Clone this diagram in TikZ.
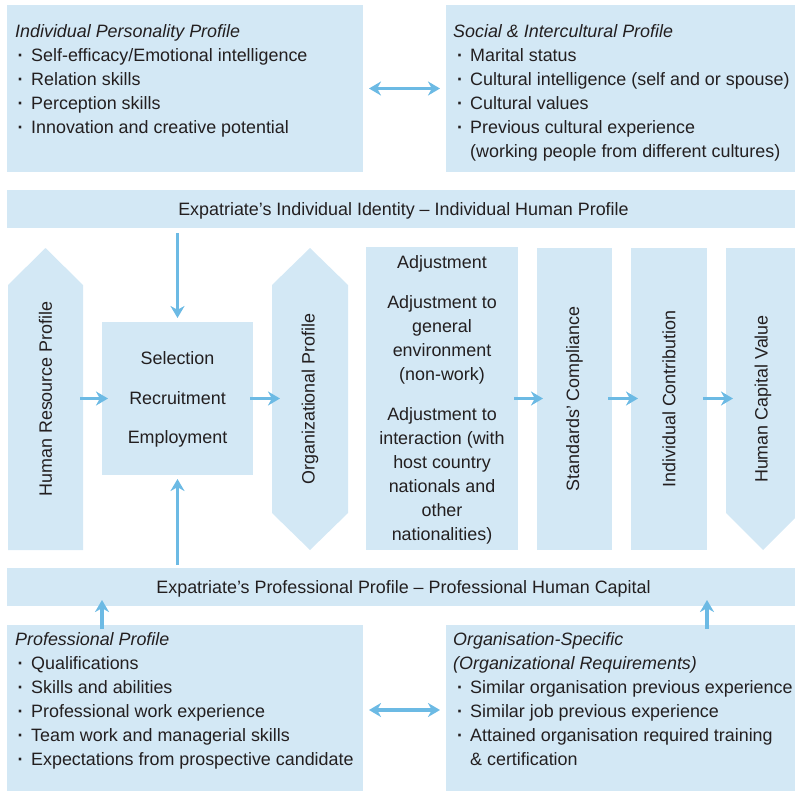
\documentclass[tikz,border=0pt]{standalone}
\usepackage{fontspec}
\setmainfont{Liberation Sans}
\usetikzlibrary{arrows.meta,calc}
\definecolor{boxc}{RGB}{211,232,245}
\definecolor{arrc}{RGB}{108,186,228}
\definecolor{txtc}{RGB}{35,31,32}
\tikzset{
 box/.style={fill=boxc,draw=none,inner sep=0pt,outer sep=0pt,anchor=north west},
 area/.style={draw=none,fill=none,inner sep=0pt,outer sep=0pt,anchor=north west},
 arr/.style={draw=arrc,line width=3.6pt,-{Stealth[length=12pt,width=14pt,inset=3.8pt]}},
 darr/.style={draw=arrc,line width=3.2pt,{Stealth[length=12pt,width=14pt,inset=3.8pt]}-{Stealth[length=12pt,width=14pt,inset=3.8pt]}},
 ln/.style={anchor=base west,inner sep=0pt},
 bul/.style={anchor=base,inner sep=0pt},
 vtxt/.style={rotate=90,inner sep=0pt},
}
\begin{document}
\begin{tikzpicture}[x=1pt,y=-1pt,font=\fontsize{17.9}{24}\selectfont,text=txtc]
\useasboundingbox (0,0) rectangle (795,790);
% boxes
\node[box,minimum width=356,minimum height=167] (ipp) at (7,5) {};
\node[box,minimum width=354,minimum height=167] (sip) at (446,5) {};
\node[box,minimum width=793,minimum height=38] (idb) at (7,190) {};
\node[box,minimum width=793,minimum height=38] (pfb) at (7,568) {};
\node[box,minimum width=356,minimum height=170] (pp) at (7,625) {};
\node[box,minimum width=354,minimum height=170] (os) at (446,625) {};
\node[box,minimum width=151,minimum height=153] (sel) at (102,322) {};
\node[box,minimum width=152,minimum height=303] (adj) at (366,247) {};
\node[box,minimum width=75,minimum height=302] (std) at (537,248) {};
\node[box,minimum width=76,minimum height=302] (ic) at (631,248) {};
\node[area,minimum width=75,minimum height=302] (hr) at (8,248) {};
\node[area,minimum width=76,minimum height=302] (org) at (272,248) {};
\node[area,minimum width=74,minimum height=302] (hcv) at (726,248) {};
% pointed shapes
\fill[boxc] (hr.south west) -- (hr.south east) -- ([yshift=-37pt]hr.north east) -- (hr.north) -- ([yshift=-37pt]hr.north west) -- cycle;
\fill[boxc] ([yshift=37pt]org.south west) -- (org.south) -- ([yshift=37pt]org.south east) -- ([yshift=-37pt]org.north east) -- (org.north) -- ([yshift=-37pt]org.north west) -- cycle;
\fill[boxc] (hcv.north west) -- (hcv.north east) -- ([yshift=37pt]hcv.south east) -- (hcv.south) -- ([yshift=37pt]hcv.south west) -- cycle;
% bar texts
\node (idt) at ($(idb.center)+(0,2)$) {Expatriate’s Individual Identity – Individual Human Profile};
\node (pft) at ($(pfb.center)+(0,2)$) {Expatriate’s Professional Profile – Professional Human Capital};
% central texts
\node[align=center] (selt) at ($(sel.center)+(0,1)$) {Selection\\[15.5pt]Recruitment\\[15.5pt]Employment};
\node[align=center] (adjt) at ($(adj.center)+(0,1.5)$) {Adjustment\\[16pt]Adjustment to\\general\\environment\\(non-work)\\[16pt]Adjustment to\\interaction (with\\host country\\nationals and\\other\\nationalities)};
\node[vtxt] (hrt) at (hr.center) {Human Resource Profile};
\node[vtxt] (orgt) at (org.center) {Organizational Profile};
\node[vtxt] (stdt) at (std.center) {Standards’ Compliance};
\node[vtxt] (ict) at (ic.center) {Individual Contribution};
\node[vtxt] (hcvt) at (hcv.center) {Human Capital Value};
% top-left list
\node[ln] (a0) at (15,37) {\itshape Individual Personality Profile};
\node[bul] (ab1) at (20.5,61) {\bfseries ·};
\node[ln] (a1) at (31,61) {Self-efficacy/Emotional intelligence};
\node[bul] (ab2) at (20.5,85) {\bfseries ·};
\node[ln] (a2) at (31,85) {Relation skills};
\node[bul] (ab3) at (20.5,109) {\bfseries ·};
\node[ln] (a3) at (31,109) {Perception skills};
\node[bul] (ab4) at (20.5,133) {\bfseries ·};
\node[ln] (a4) at (31,133) {Innovation and creative potential};
% top-right list
\node[ln] (b0) at (453,37) {\itshape Social \& Intercultural Profile};
\node[bul] (bb1) at (460,61) {\bfseries ·};
\node[ln] (b1) at (470,61) {Marital status};
\node[bul] (bb2) at (460,85) {\bfseries ·};
\node[ln] (b2) at (470,85) {Cultural intelligence (self and or spouse)};
\node[bul] (bb3) at (460,109) {\bfseries ·};
\node[ln] (b3) at (470,109) {Cultural values};
\node[bul] (bb4) at (460,133) {\bfseries ·};
\node[ln] (b4) at (470,133) {Previous cultural experience};
\node[ln] (b5) at (470,157) {(working people from different cultures)};
% bottom-left list
\node[ln] (c0) at (15,645) {\itshape Professional Profile};
\node[bul] (cb1) at (20.5,669) {\bfseries ·};
\node[ln] (c1) at (31,669) {Qualifications};
\node[bul] (cb2) at (20.5,693) {\bfseries ·};
\node[ln] (c2) at (31,693) {Skills and abilities};
\node[bul] (cb3) at (20.5,717) {\bfseries ·};
\node[ln] (c3) at (31,717) {Professional work experience};
\node[bul] (cb4) at (20.5,741) {\bfseries ·};
\node[ln] (c4) at (31,741) {Team work and managerial skills};
\node[bul] (cb5) at (20.5,765) {\bfseries ·};
\node[ln] (c5) at (31,765) {Expectations from prospective candidate};
% bottom-right list
\node[ln] (d0) at (453,645) {\itshape Organisation-Specific};
\node[ln] (d1) at (453,669) {\itshape (Organizational Requirements)};
\node[bul] (db2) at (460,693) {\bfseries ·};
\node[ln] (d2) at (470,693) {Similar organisation previous experience};
\node[bul] (db3) at (460,717) {\bfseries ·};
\node[ln] (d3) at (470,717) {Similar job previous experience};
\node[bul] (db4) at (460,741) {\bfseries ·};
\node[ln] (d4) at (470,741) {Attained organisation required training};
\node[ln] (d5) at (470,765) {\& certification};
% arrows
\draw[darr,shorten <=6pt,shorten >=6pt] (ipp.east) -- (sip.west);
\draw[darr,shorten <=6pt,shorten >=6pt] (pp.east) -- (os.west);
\draw[arr,shorten <=5pt,shorten >=4pt] (sel.north |- idb.south) -- (sel.north);
\draw[arr,shorten <=3pt,shorten >=4pt] (sel.south |- pfb.north) -- (sel.south);
\draw[arr,shorten <=-3pt,shorten >=-6pt] (hr.east |- sel.west) -- (sel.west);
\draw[arr,shorten <=-3pt,shorten >=-8pt] (sel.east) -- (org.west |- sel.east);
\draw[arr,shorten <=-4pt,shorten >=-6pt] (adj.east |- sel.east) -- (std.west |- sel.east);
\draw[arr,shorten <=-4pt,shorten >=-7pt] (std.east |- sel.east) -- (ic.west |- sel.east);
\draw[arr,shorten <=-4pt,shorten >=-7pt] (ic.east |- sel.east) -- (hcv.west |- sel.east);
\draw[arr,shorten <=-4pt,shorten >=-6pt] (sel.west |- pp.north) -- (sel.west |- pfb.south);
\draw[arr,shorten <=-4pt,shorten >=-6pt] (ic.east |- os.north) -- (ic.east |- pfb.south);
\end{tikzpicture}
\end{document}
